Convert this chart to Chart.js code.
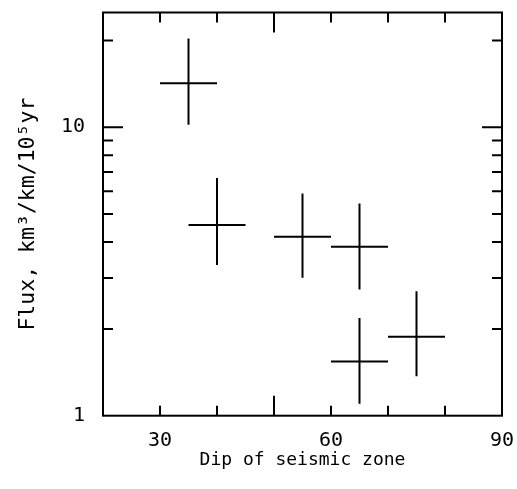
<!DOCTYPE html>
<html>
<head>
<meta charset="utf-8">
<script src="https://cdn.jsdelivr.net/npm/chart.js@4"></script>
<style>
  html, body { margin: 0; padding: 0; background: #ffffff; }
  #wrap { width: 517px; height: 489px; }
</style>
</head>
<body>
<div id="wrap"><canvas id="c" width="517" height="489"></canvas></div>
<script>
// Dip of seismic zone (degrees): centre and horizontal bar ends
const dip   = [35, 40, 55, 65, 65, 75];
const dipLo = [30, 35, 50, 60, 60, 70];
const dipHi = [40, 45, 60, 70, 70, 80];
// Flux (km^3/km/10^5 yr): centre and vertical bar ends
const flux   = [14.2, 4.58, 4.17, 3.85, 1.54, 1.88];
const fluxLo = [10.2, 3.33, 3.01, 2.74, 1.10, 1.37];
const fluxHi = [20.3, 6.67, 5.89, 5.44, 2.18, 2.70];
// Tick labels
const xTickLabels = [30, 60, 90];
const yTickLabels = [1, 10];
// Inward tick marks (frame)
const xMinorTicks = [30, 40, 60, 70, 80];
const xMajorTicks = [50];
const yMinorTicks = [2, 3, 4, 5, 6, 7, 8, 9, 20];
const yMajorTicks = [10];

const FONT = "'DejaVu Sans Mono', 'Liberation Mono', monospace";

const datasets = [];
for (let i = 0; i < dip.length; i++) {
  datasets.push({
    data: [{x: dipLo[i], y: flux[i]}, {x: dipHi[i], y: flux[i]}],
    showLine: true, borderColor: '#000', borderWidth: 2, pointRadius: 0, fill: false
  });
  datasets.push({
    data: [{x: dip[i], y: fluxLo[i]}, {x: dip[i], y: fluxHi[i]}],
    showLine: true, borderColor: '#000', borderWidth: 2, pointRadius: 0, fill: false
  });
}

const framePlugin = {
  id: 'frame',
  afterDraw(chart) {
    const {ctx, chartArea: a, scales} = chart;
    const xs = scales.x, ys = scales.y;
    ctx.save();
    ctx.strokeStyle = '#000';
    ctx.lineWidth = 2;
    ctx.strokeRect(a.left, a.top, a.right - a.left, a.bottom - a.top);
    ctx.beginPath();
    const tick = (vals, len) => {
      vals.forEach(v => {
        const px = xs.getPixelForValue(v);
        ctx.moveTo(px, a.bottom); ctx.lineTo(px, a.bottom - len);
        ctx.moveTo(px, a.top); ctx.lineTo(px, a.top + len);
      });
    };
    const ytick = (vals, len) => {
      vals.forEach(v => {
        const py = ys.getPixelForValue(v);
        ctx.moveTo(a.left, py); ctx.lineTo(a.left + len, py);
        ctx.moveTo(a.right, py); ctx.lineTo(a.right - len, py);
      });
    };
    tick(xMinorTicks, 10);
    tick(xMajorTicks, 20);
    ytick(yMinorTicks, 10);
    ytick(yMajorTicks, 20);
    ctx.stroke();
    ctx.restore();
  }
};

new Chart(document.getElementById('c'), {
  type: 'scatter',
  data: { datasets },
  options: {
    responsive: false,
    animation: false,
    layout: { padding: { top: 12.5, right: 15, left: 0, bottom: 0 } },
    plugins: { legend: { display: false }, tooltip: { enabled: false } },
    scales: {
      x: {
        type: 'linear', min: 20, max: 90,
        grid: { display: false, drawTicks: false },
        border: { display: false },
        afterBuildTicks: s => { s.ticks = xTickLabels.map(v => ({value: v})); },
        afterFit: s => { s.height = 73.3; s.paddingLeft = 0; s.paddingRight = 0; },
        ticks: { color: '#000', font: { family: FONT, size: 20 }, padding: 13, maxRotation: 0 },
        title: { display: true, text: 'Dip of seismic zone', color: '#000',
                 font: { family: FONT, size: 18 }, padding: { top: 0, bottom: 18 } }
      },
      y: {
        type: 'logarithmic', min: 1, max: 25,
        grid: { display: false, drawTicks: false },
        border: { display: false },
        afterBuildTicks: s => { s.ticks = yTickLabels.map(v => ({value: v})); },
        afterFit: s => { s.width = 103; s.paddingTop = 0; s.paddingBottom = 0; },
        ticks: { color: '#000', font: { family: FONT, size: 20 }, padding: 18,
                 callback: v => String(v) },
        title: { display: true, text: 'Flux, km³/km/10⁵yr', color: '#000',
                 font: { family: FONT, size: 21.5 }, padding: { top: 16, bottom: 0 } }
      }
    }
  },
  plugins: [framePlugin]
});
</script>
</body>
</html>
